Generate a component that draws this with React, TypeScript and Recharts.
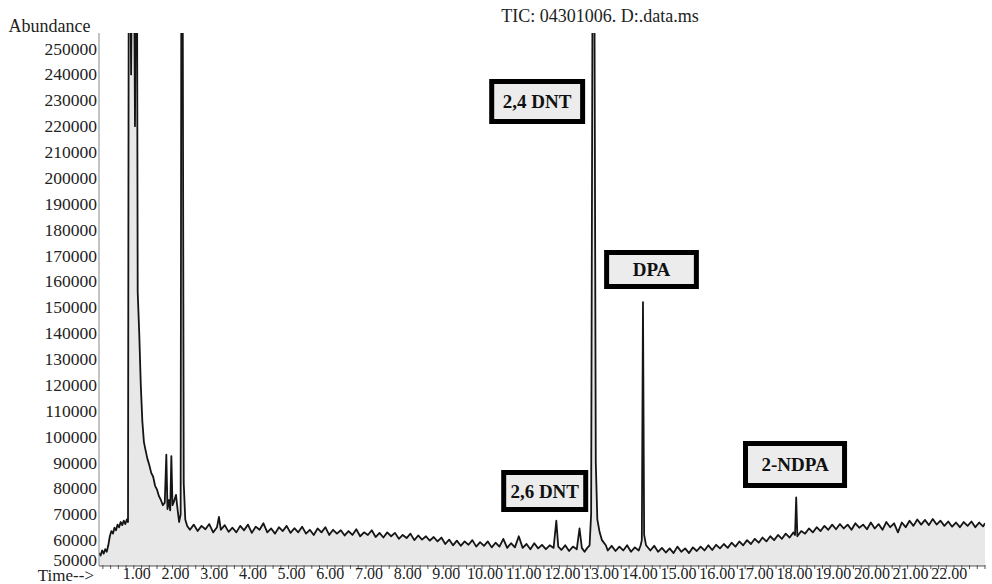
import { AreaChart, Area, XAxis, YAxis, ReferenceArea } from "recharts"

// [time (min), abundance], region by region
const solventRegion: [number, number][] = [
  [0.10, 55000], [0.14, 54000], [0.18, 56000], [0.22, 54800], [0.26, 56500], [0.30, 55500],
  [0.34, 58000], [0.38, 61500], [0.42, 63500], [0.46, 62500], [0.50, 64800], [0.54, 63800],
  [0.58, 66000], [0.62, 65000], [0.66, 67000], [0.70, 65800], [0.74, 67500], [0.78, 66200],
  [0.82, 68000], [0.85, 67000], [0.87, 300000], [0.90, 300000], [0.93, 240000], [0.96, 300000],
  [1.00, 300000], [1.03, 220000], [1.06, 300000], [1.08, 300000], [1.10, 156000], [1.14, 140000],
  [1.18, 120000], [1.22, 106000], [1.26, 98000], [1.30, 95000], [1.35, 91500], [1.40, 89000],
  [1.45, 86000], [1.50, 84500], [1.55, 81000], [1.60, 79500], [1.65, 77000], [1.70, 75500],
  [1.75, 73500], [1.80, 74500], [1.84, 93000], [1.87, 72000], [1.91, 75500], [1.94, 71500],
  [1.97, 92500], [2.00, 73500], [2.04, 75000], [2.09, 77500], [2.13, 72000], [2.17, 67000],
  [2.21, 70000], [2.23, 300000], [2.26, 300000], [2.29, 82000], [2.33, 68000], [2.38, 65500],
]

const earlyBaseline: [number, number][] = [
  [2.45, 64000], [2.55, 66000], [2.65, 63500], [2.75, 65500], [2.85, 64200], [2.95, 66200],
  [3.05, 63000], [3.15, 65000], [3.20, 69000], [3.25, 64000], [3.35, 65800], [3.45, 63200],
  [3.55, 64800], [3.65, 63000], [3.75, 65500], [3.85, 63800], [3.95, 66000], [4.05, 62800],
  [4.15, 65200], [4.25, 64000], [4.35, 66500], [4.45, 63000], [4.55, 64500], [4.65, 62500],
  [4.75, 65000], [4.85, 63500], [4.95, 65500], [5.05, 62800], [5.15, 64600], [5.25, 63000],
  [5.35, 65200], [5.45, 62500], [5.55, 64000], [5.65, 62000], [5.75, 64500], [5.85, 63000],
  [5.95, 65000], [6.05, 62000], [6.15, 64000], [6.25, 62500], [6.35, 63800], [6.45, 61800],
  [6.55, 63500], [6.65, 62000], [6.75, 64200], [6.85, 61500], [6.95, 63000], [7.05, 62000],
  [7.15, 63800], [7.25, 61200], [7.35, 62800], [7.45, 61000], [7.55, 63000], [7.65, 61500],
  [7.75, 62800], [7.85, 60500], [7.95, 62000], [8.05, 60800], [8.15, 62500], [8.25, 60000],
  [8.35, 61800], [8.45, 60200], [8.55, 61500], [8.65, 59800], [8.75, 61200], [8.85, 59500],
  [8.95, 61000],
]

const dntRegion: [number, number][] = [
  [9.05, 58500], [9.15, 60200], [9.25, 58000], [9.35, 59800], [9.45, 57800], [9.55, 59500],
  [9.65, 58200], [9.75, 60000], [9.85, 57500], [9.95, 59200], [10.05, 57800], [10.15, 59500],
  [10.25, 57200], [10.35, 59000], [10.45, 57500], [10.55, 60500], [10.65, 57000], [10.75, 58800],
  [10.85, 57200], [10.95, 61500], [11.05, 57000], [11.15, 58500], [11.25, 56500], [11.35, 58800],
  [11.45, 56800], [11.55, 58200], [11.65, 56500], [11.75, 58000], [11.85, 57000], [11.92, 67500],
  [11.97, 57500], [12.05, 56200], [12.15, 58000], [12.25, 55800], [12.35, 57500], [12.45, 56500],
  [12.52, 64500], [12.58, 57000], [12.65, 55500], [12.72, 57000], [12.78, 58000], [12.82, 70000],
  [12.86, 300000], [12.90, 300000], [12.94, 90000], [12.98, 68000], [13.04, 63000], [13.10, 60000],
  [13.20, 58000],
]

const dpaRegion: [number, number][] = [
  [13.25, 56000], [13.35, 57800], [13.45, 55800], [13.55, 57500], [13.65, 56000], [13.75, 58000],
  [13.85, 55500], [13.95, 57200], [14.05, 56000], [14.10, 58000], [14.13, 60000], [14.16, 152000],
  [14.19, 62000], [14.24, 58000],
]

const lateRegion: [number, number][] = [
  [14.35, 56000], [14.45, 57800], [14.55, 55500], [14.65, 57000], [14.75, 55200], [14.85, 56800],
  [14.95, 55000], [15.05, 57500], [15.15, 55500], [15.25, 56800], [15.35, 55000], [15.45, 57200],
  [15.55, 55800], [15.65, 57500], [15.75, 56000], [15.85, 58000], [15.95, 56200], [16.05, 58200],
  [16.15, 56800], [16.25, 58500], [16.35, 57000], [16.45, 59000], [16.55, 57500], [16.65, 59500],
  [16.75, 58000], [16.85, 60000], [16.95, 58500], [17.05, 60500], [17.15, 59000], [17.25, 61000],
  [17.35, 59500], [17.45, 61500], [17.55, 60000], [17.65, 62000], [17.75, 60500], [17.85, 62500],
  [17.95, 61000], [18.05, 63000], [18.09, 62000], [18.12, 76500], [18.15, 61500],
]

const tailRegion: [number, number][] = [
  [18.25, 63500], [18.35, 62500], [18.45, 64500], [18.55, 63000], [18.65, 65000], [18.75, 63500],
  [18.85, 65500], [18.95, 64000], [19.05, 66000], [19.15, 64200], [19.25, 66200], [19.35, 64500],
  [19.45, 66000], [19.55, 64000], [19.65, 66500], [19.75, 64800], [19.85, 66000], [19.95, 64200],
  [20.05, 66800], [20.15, 64500], [20.25, 66200], [20.35, 64000], [20.45, 67000], [20.55, 65000],
  [20.65, 66500], [20.75, 63000], [20.85, 66800], [20.95, 65000], [21.05, 67500], [21.15, 65500],
  [21.25, 68000], [21.35, 66000], [21.45, 67800], [21.55, 65800], [21.65, 68200], [21.75, 66000],
  [21.85, 67500], [21.95, 65500], [22.05, 67200], [22.15, 65200], [22.25, 66800], [22.35, 65000],
  [22.45, 67000], [22.55, 65500], [22.65, 67200], [22.75, 65000], [22.85, 66800], [22.95, 65300],
  [23.00, 66500],
]

const abundanceTicks = [
  50000, 60000, 70000, 80000, 90000, 100000, 110000, 120000, 130000, 140000, 150000,
  160000, 170000, 180000, 190000, 200000, 210000, 220000, 230000, 240000, 250000,
]
const timeLabels = [1, 2, 3, 4, 5, 6, 7, 8, 9, 10, 11, 12, 13, 14, 15, 16, 17, 18, 19, 20, 21, 22]

const peakLabels = [
  { text: "2,4 DNT", x1: 10.25, x2: 12.6, y1: 221800, y2: 237300 },
  { text: "DPA", x1: 13.22, x2: 15.54, y1: 158000, y2: 171200 },
  { text: "2,6 DNT", x1: 10.56, x2: 12.68, y1: 71800, y2: 86100 },
  { text: "2-NDPA", x1: 16.81, x2: 19.37, y1: 81100, y2: 97350 },
]

const data = [
  ...solventRegion, ...earlyBaseline, ...dntRegion, ...dpaRegion, ...lateRegion, ...tailRegion,
].map(([t, abundance]) => ({ t, abundance }))

// minor ticks every 0.2 min, labels only on whole minutes
const minorTicks: number[] = []
for (let i = 1; i <= 115; i++) minorTicks.push(Math.round(i * 2) / 10)

function TimeTick(props: any) {
  const { x, y, payload } = props
  const v = payload.value
  const whole = Math.abs(v - Math.round(v)) < 1e-6 && timeLabels.includes(Math.round(v))
  return (
    <g>
      <line x1={x} x2={x} y1={y - 1} y2={y + 3} stroke="#555" strokeWidth={1} />
      {whole && (
        <text x={x + 3} y={y + 13} textAnchor="middle" fontSize={16} fill="#222">
          {v.toFixed(2)}
        </text>
      )}
    </g>
  )
}

function AbundanceTick(props: any) {
  const { x, y, payload } = props
  const shift = payload.value === 50000 ? -6 : 0
  return (
    <text x={x} y={y + 6 + shift} textAnchor="end" fontSize={17.5} fill="#222">
      {payload.value}
    </text>
  )
}

export default function App() {
  return (
    <div
      style={{
        position: "absolute",
        left: 0,
        top: 0,
        width: 992,
        height: 584,
        background: "#fff",
        fontFamily: '"Liberation Serif", serif',
      }}
    >
      <div
        style={{
          position: "absolute",
          left: 500,
          top: 6,
          width: 200,
          textAlign: "center",
          fontSize: 18,
          color: "#222",
          whiteSpace: "nowrap",
        }}
      >
        TIC: 04301006. D:.data.ms
      </div>
      <AreaChart
        width={992}
        height={584}
        data={data}
        margin={{ top: 33, right: 7, bottom: 0, left: 0 }}
      >
        <XAxis
          dataKey="t"
          type="number"
          domain={[0.1, 23]}
          allowDataOverflow
          ticks={minorTicks}
          interval={0}
          tick={<TimeTick />}
          tickSize={0}
          tickMargin={0}
          height={18}
          stroke="#555"
          label={{ value: "Time-->", position: "left", offset: 5, fontSize: 17, fill: "#222" }}
        />
        <YAxis
          type="number"
          domain={[50000, 256000]}
          allowDataOverflow
          ticks={abundanceTicks}
          interval={0}
          tick={<AbundanceTick />}
          tickSize={0}
          tickMargin={2}
          width={99}
          stroke="#888"
          label={{ value: "Abundance", position: "top", offset: 1, fontSize: 18, fill: "#222" }}
        />
        <Area
          type="linear"
          dataKey="abundance"
          stroke="#151515"
          strokeWidth={1.8}
          strokeLinejoin="round"
          fill="#e8e8e8"
          fillOpacity={1}
          dot={false}
          activeDot={false}
          isAnimationActive={false}
        />
        {peakLabels.map((p) => (
          <ReferenceArea
            key={p.text}
            x1={p.x1}
            x2={p.x2}
            y1={p.y1}
            y2={p.y2}
            fill="#ececec"
            fillOpacity={1}
            stroke="#000"
            strokeWidth={5}
            label={{
              value: p.text,
              position: "center",
              fontSize: 19,
              fontWeight: 700,
              fill: "#111",
            }}
          />
        ))}
      </AreaChart>
    </div>
  )
}
